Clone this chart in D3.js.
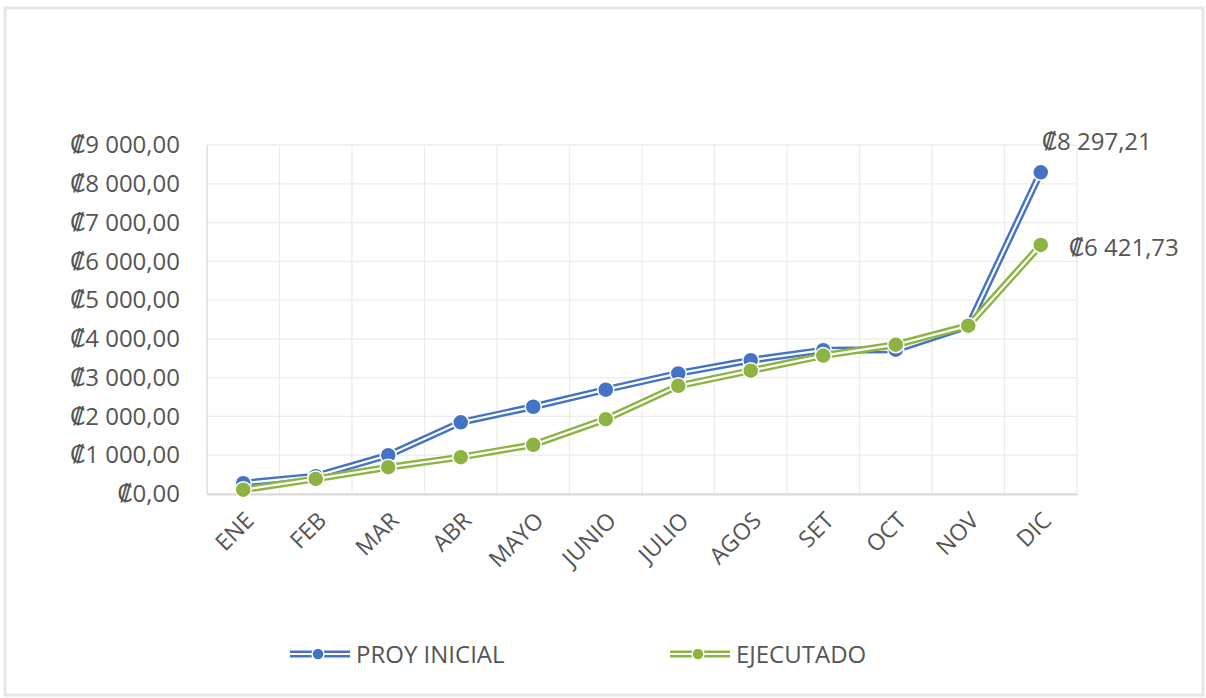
<!DOCTYPE html>
<html>
<head>
<meta charset="utf-8">
<script src="https://cdn.jsdelivr.net/npm/d3@7"></script>
<style>
    body { margin: 0; background: #fff; }
    text { font-family: "Open Sans", "DejaVu Sans", sans-serif; fill: #555; }
</style>
</head>
<body>
<div id="chart"></div>
<script>
// months on x axis
var meses = ["ENE", "FEB", "MAR", "ABR", "MAYO", "JUNIO", "JULIO", "AGOS", "SET", "OCT", "NOV", "DIC"];

// accumulated values
var proyInicial = [280, 460, 1000, 1850, 2250, 2690, 3110, 3450, 3710, 3720, 4330, 8297.21];
var ejecutado = [110, 390, 690, 950, 1270, 1930, 2790, 3180, 3570, 3850, 4340, 6421.73];

var yTicks = [0, 1000, 2000, 3000, 4000, 5000, 6000, 7000, 8000, 9000];

var series = [
    { name: "PROY INICIAL", values: proyInicial, color: "#4472C4" },
    { name: "EJECUTADO", values: ejecutado, color: "#8DB443" }
];

var width = 1206, height = 698;
var margin = { left: 207, right: 129, top: 145, bottom: 204 };

// colon sign + space thousands + comma decimals
var locale = d3.formatLocale({ decimal: ",", thousands: " ", grouping: [3], currency: ["₡", ""] });
var fmt = locale.format("$,.2f");

var svg = d3.select("#chart")
    .append("svg")
    .attr("width", width)
    .attr("height", height);

// outer chart frame
svg.append("rect")
    .attr("x", 5).attr("y", 8)
    .attr("width", width - 8).attr("height", height - 11)
    .attr("fill", "none")
    .attr("stroke", "#e3e7ef")
    .attr("stroke-width", 3);

var x = d3.scaleBand()
    .domain(meses)
    .range([margin.left, width - margin.right]);

var y = d3.scaleLinear()
    .domain([0, 9000])
    .range([height - margin.bottom, margin.top]);

var cx = function(i) { return x(meses[i]) + x.bandwidth() / 2; };

// horizontal gridlines
svg.append("g").selectAll("line")
    .data(yTicks).enter().append("line")
    .attr("x1", margin.left).attr("x2", width - margin.right)
    .attr("y1", function(d) { return y(d); })
    .attr("y2", function(d) { return y(d); })
    .attr("stroke", "#ececec")
    .attr("stroke-width", 1.3);

// vertical gridlines between categories
var bounds = meses.map(function(m) { return x(m); }).concat([width - margin.right]);
svg.append("g").selectAll("line")
    .data(bounds).enter().append("line")
    .attr("x1", function(d) { return d; }).attr("x2", function(d) { return d; })
    .attr("y1", y(9000)).attr("y2", y(0))
    .attr("stroke", function(d, i) { return i === 0 ? "#d9d9d9" : "#ececec"; })
    .attr("stroke-width", 1.3);

// y axis labels
var yAxis = svg.append("g")
    .attr("transform", "translate(" + (margin.left - 27) + ",0)")
    .call(d3.axisLeft(y).tickValues(yTicks).tickFormat(fmt).tickSize(0).tickPadding(0));
yAxis.select(".domain").remove();
yAxis.selectAll("text")
    .attr("font-size", 24)
    .attr("fill", "#555")
    .attr("font-family", "'Open Sans', sans-serif");

// x axis
var xAxis = svg.append("g")
    .attr("transform", "translate(0," + y(0) + ")")
    .call(d3.axisBottom(x).tickSize(0).tickPadding(0));
xAxis.select(".domain").attr("stroke", "#d9d9d9").attr("stroke-width", 2);
xAxis.selectAll("text")
    .attr("font-size", 23)
    .attr("fill", "#555")
    .attr("font-family", "'Open Sans', sans-serif")
    .attr("text-anchor", "end")
    .attr("dy", 0)
    .attr("transform", "translate(12,28) rotate(-45)");

var line = d3.line()
    .x(function(d, i) { return cx(i); })
    .y(function(d) { return y(d); });

// double ("compound") lines with markers
series.forEach(function(s) {
    var g = svg.append("g");
    g.append("path")
        .attr("d", line(s.values))
        .attr("fill", "none")
        .attr("stroke", s.color)
        .attr("stroke-width", 7);
    g.append("path")
        .attr("d", line(s.values))
        .attr("fill", "none")
        .attr("stroke", "#fff")
        .attr("stroke-width", 2.2);
    g.selectAll("circle")
        .data(s.values).enter().append("circle")
        .attr("cx", function(d, i) { return cx(i); })
        .attr("cy", function(d) { return y(d); })
        .attr("r", 8)
        .attr("fill", s.color)
        .attr("stroke", "#fff")
        .attr("stroke-width", 1.5);
});

// data labels on last point
var last = meses.length - 1;
svg.append("text")
    .attr("x", cx(last) + 1)
    .attr("y", y(proyInicial[last]) - 22)
    .attr("font-size", 24)
    .text(fmt(proyInicial[last]));
svg.append("text")
    .attr("x", cx(last) + 28)
    .attr("y", y(ejecutado[last]) + 11)
    .attr("font-size", 24)
    .text(fmt(ejecutado[last]));

// legend
var legendPos = [290, 670];
series.forEach(function(s, i) {
    var lg = svg.append("g").attr("transform", "translate(" + legendPos[i] + ",654)");
    lg.append("line")
        .attr("x1", 0).attr("x2", 60)
        .attr("stroke", s.color).attr("stroke-width", 7);
    lg.append("line")
        .attr("x1", 0).attr("x2", 60)
        .attr("stroke", "#fff").attr("stroke-width", 2.2);
    lg.append("circle")
        .attr("cx", 28).attr("r", 6)
        .attr("fill", s.color)
        .attr("stroke", "#fff").attr("stroke-width", 1.5);
    lg.append("text")
        .attr("x", 66).attr("y", 9)
        .attr("font-size", 24)
        .text(s.name);
});
</script>
</body>
</html>
